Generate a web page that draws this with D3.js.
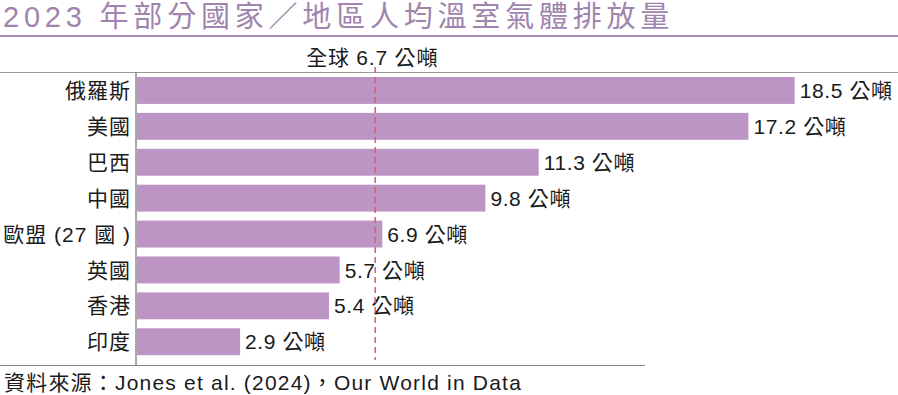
<!DOCTYPE html>
<html>
<head>
<meta charset="utf-8">
<script src="https://cdn.jsdelivr.net/npm/d3@7.9.0/dist/d3.min.js"></script>
<style>
  html, body { margin: 0; padding: 0; background: #fff; }
  svg { display: block; font-family: "Liberation Sans", "Noto Sans CJK TC", sans-serif; }
</style>
</head>
<body>
<svg id="chart" width="898" height="395"></svg>
<script>
const countries = ["俄羅斯", "美國", "巴西", "中國", "歐盟 (27 國 )", "英國", "香港", "印度"];
const emissions = [18.5, 17.2, 11.3, 9.8, 6.9, 5.7, 5.4, 2.9];
const globalAvg = 6.7;
const unit = "公噸";
const title = "2023 年部分國家／地區人均溫室氣體排放量";
const source = "資料來源：Jones et al. (2024)，Our World in Data";

const data = countries.map((c, i) => ({ name: c, value: emissions[i] }));

const svg = d3.select("#chart");

const x = d3.scaleLinear().domain([0, 20]).range([137, 848]);
const y = d3.scaleBand()
  .domain(countries)
  .range([72.5, 359.7])
  .paddingInner(0.25)
  .paddingOuter(0.125);

// title
svg.append("text")
  .attr("x", 3)
  .attr("y", 27)
  .attr("fill", "#a084ad")
  .attr("font-size", 29)
  .attr("letter-spacing", 4.8)
  .text(title);

svg.append("rect")
  .attr("x", 0).attr("y", 35)
  .attr("width", 898).attr("height", 2)
  .attr("fill", "#a98bb6");

// top rule
svg.append("line")
  .attr("x1", 0).attr("x2", 898)
  .attr("y1", 72.5).attr("y2", 72.5)
  .attr("stroke", "#9a9a9a")
  .attr("stroke-width", 1.2);

// bars
svg.selectAll("rect.bar")
  .data(data)
  .enter()
  .append("rect")
  .attr("class", "bar")
  .attr("x", x(0))
  .attr("y", d => y(d.name))
  .attr("width", d => x(d.value) - x(0))
  .attr("height", y.bandwidth())
  .attr("fill", "#bc95c5");

// axis line
svg.append("line")
  .attr("x1", 136).attr("x2", 136)
  .attr("y1", 72.5).attr("y2", 365)
  .attr("stroke", "#555")
  .attr("stroke-width", 1);

// category labels
svg.selectAll("text.cat")
  .data(data)
  .enter()
  .append("text")
  .attr("class", "cat")
  .attr("x", 131)
  .attr("y", d => y(d.name) + y.bandwidth() / 2)
  .attr("dy", "0.36em")
  .attr("text-anchor", "end")
  .attr("font-size", 21)
  .attr("letter-spacing", 1)
  .attr("fill", "#1a1a1a")
  .text(d => d.name);

// value labels
svg.selectAll("text.val")
  .data(data)
  .enter()
  .append("text")
  .attr("class", "val")
  .attr("x", d => x(d.value) + 5)
  .attr("y", d => y(d.name) + y.bandwidth() / 2)
  .attr("dy", "0.36em")
  .attr("font-size", 21)
  .attr("letter-spacing", 0.6)
  .attr("fill", "#1a1a1a")
  .text(d => `${d.value.toFixed(1)} ${unit}`);

// global average
svg.append("line")
  .attr("x1", x(globalAvg)).attr("x2", x(globalAvg))
  .attr("y1", 67).attr("y2", 360)
  .attr("stroke", "#e8566a")
  .attr("stroke-width", 1.5)
  .attr("stroke-dasharray", "6,4");

svg.append("text")
  .attr("x", x(globalAvg) - 3)
  .attr("y", 65)
  .attr("text-anchor", "middle")
  .attr("font-size", 21)
  .attr("letter-spacing", 0.8)
  .attr("fill", "#1a1a1a")
  .text(`全球 ${globalAvg} ${unit}`);

// bottom rule
svg.append("line")
  .attr("x1", 0).attr("x2", 645)
  .attr("y1", 365.5).attr("y2", 365.5)
  .attr("stroke", "#888")
  .attr("stroke-width", 1.2);

svg.append("text")
  .attr("x", 4)
  .attr("y", 390)
  .attr("font-size", 21)
  .attr("letter-spacing", 1.2)
  .attr("fill", "#1a1a1a")
  .text(source);
</script>
</body>
</html>
